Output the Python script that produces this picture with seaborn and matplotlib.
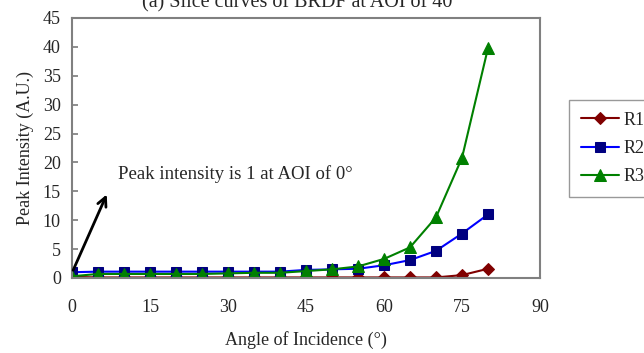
import numpy as np
import pandas as pd
import seaborn as sns
import matplotlib.pyplot as plt

sns.set_theme(style="white")
plt.rcParams['font.family'] = ['Liberation Serif', 'DejaVu Serif']

# angle of incidence (deg) and peak intensity readings
aoi = [0, 5, 10, 15, 20, 25, 30, 35, 40, 45, 50, 55, 60, 65, 70, 75, 80]
r1 = [0.2, 0.1, 0.1, 0.1, 0.1, 0.1, 0.1, 0.1, 0.1, 0.1, 0.1, 0.1, 0.1, 0.1, 0.1, 0.5, 1.6]
r2 = [1.0, 1.1, 1.1, 1.1, 1.1, 1.1, 1.1, 1.1, 1.1, 1.4, 1.5, 1.6, 2.2, 3.1, 4.7, 7.7, 11.0]
r3 = [0.3, 0.7, 0.7, 0.7, 0.7, 0.7, 0.8, 0.9, 0.9, 1.2, 1.5, 2.0, 3.3, 5.3, 10.5, 20.8, 39.8]
series = ["R1", "R2", "R3"]

df = pd.DataFrame({"aoi": aoi * 3, "val": r1 + r2 + r3,
                   "series": np.repeat(series, len(aoi))})

styles = {
    "R1": dict(color="#800000", marker="D", markerfacecolor="#800000", markeredgecolor="#800000", markersize=6),
    "R2": dict(color="#0000FF", marker="s", markerfacecolor="#000080", markeredgecolor="#000080", markersize=7),
    "R3": dict(color="#008000", marker="^", markerfacecolor="#008000", markeredgecolor="#008000", markersize=8),
}

fig = plt.figure(figsize=(6.44, 3.53), dpi=100)
ax = fig.add_axes([72/644, 75/353, 468/644, 260/353])

for s in series:
    sub = df[df["series"] == s]
    sns.lineplot(data=sub, x="aoi", y="val", ax=ax, label=s, linewidth=1.5, **styles[s])

ax.set_xlim(0, 90)
ax.set_ylim(0, 45)
ax.set_xticks(range(0, 91, 15))
ax.set_yticks(range(0, 46, 5))
ax.tick_params(axis="y", direction="in", length=4, color="#808080", labelsize=13, pad=8, left=True)
ax.tick_params(axis="x", direction="in", length=0, labelsize=13, pad=15)
for sp in ax.spines.values():
    sp.set_color("#808080")
    sp.set_linewidth(1.5)

ax.set_xlabel("Angle of Incidence (°)", fontsize=13, labelpad=11)
ax.set_ylabel("Peak Intensity (A.U.)", fontsize=13, labelpad=6)

ax.annotate("", xy=(6.9, 14.9), xytext=(0, 0.9),
            arrowprops=dict(arrowstyle="->", color="black", lw=2, mutation_scale=16))
ax.text(8.9, 18.0, "Peak intensity is 1 at AOI of 0°", fontsize=13.5, va="center", ha="left")

fig.text(301/644, 0.993, "(a) Slice curves of BRDF at AOI of 40°", fontsize=14.5,
         ha="center", va="center")

leg = ax.legend(loc="upper left", bbox_to_anchor=(569/644, 253/353), bbox_transform=fig.transFigure,
                fontsize=13, frameon=True, fancybox=False, handlelength=2.1,
                borderpad=0.65, labelspacing=0.62, handletextpad=0.25, borderaxespad=0)
leg.get_frame().set_edgecolor("#808080")
leg.get_frame().set_linewidth(1.0)

fig.savefig("out.png", dpi=100)
